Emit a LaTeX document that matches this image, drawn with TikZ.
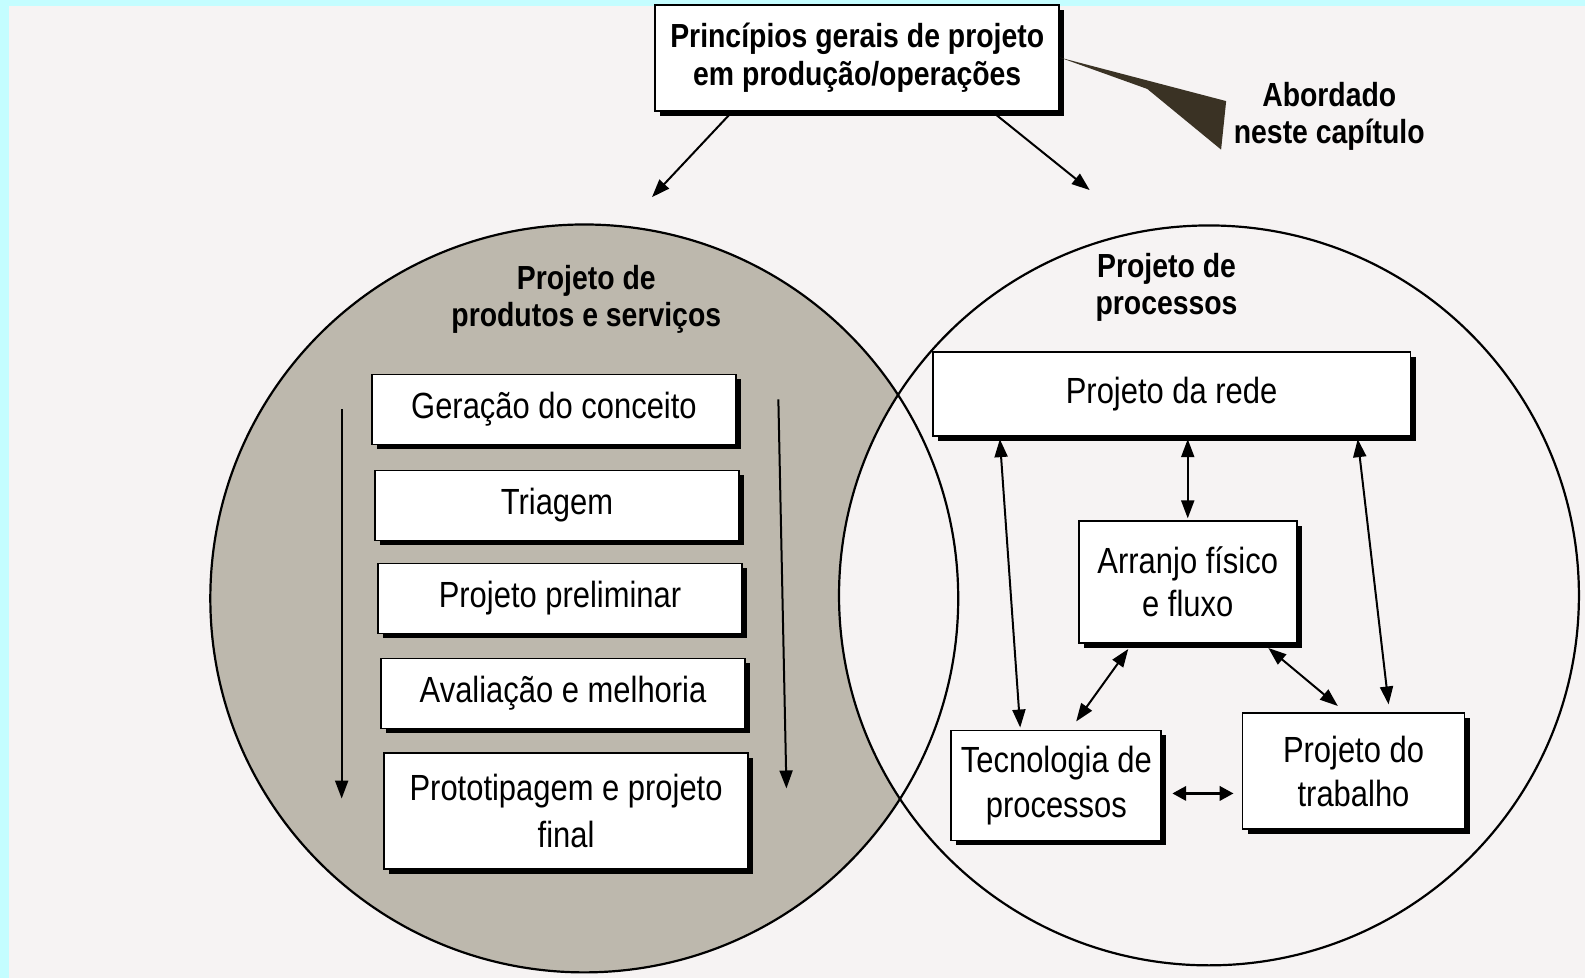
\documentclass[tikz,border=0pt]{standalone}
\usepackage{fontspec}
\setmainfont{Liberation Sans}[FakeStretch=0.85]
\usetikzlibrary{arrows.meta,shadows,calc}
\definecolor{paper}{RGB}{246,243,243}
\definecolor{screen}{RGB}{196,253,255}
\definecolor{prodgray}{RGB}{189,184,173}
\definecolor{wedge}{RGB}{58,50,36}

\begin{document}
\begin{tikzpicture}[x=0.5055pt,y=-0.5055pt,
    stepbox/.style={draw,line width=0.9pt,fill=white,align=center,
      font=\fontsize{18.2}{23.7}\selectfont,inner sep=2pt,
      drop shadow={shadow xshift=2.5pt,shadow yshift=-2.5pt,fill=black,opacity=1}},
    headlbl/.style={align=center,font=\fontsize{16.7}{18.7}\selectfont\bfseries},
    oneway/.style={-{Triangle[length=9pt,width=6.5pt]},line width=1pt},
    twoway/.style={{Triangle[length=9pt,width=6.5pt]}-{Triangle[length=9pt,width=6.5pt]},
      line width=1pt,shorten <=1pt,shorten >=1pt}]
    % page
    \fill[screen] (0,0) rectangle (1568,967);
    \fill[paper] (9,6) rectangle (1568,967);
    \useasboundingbox (0,0) rectangle (1568,967);
    % the two circles
    \fill[prodgray] (578,592) circle [radius=187pt];
    \fill[paper] (1196,589) circle [radius=185pt];
    \draw[line width=1.1pt] (578,592) circle [radius=187pt];
    \draw[line width=1.1pt] (1196,589) circle [radius=185pt];

    \node[stepbox,headlbl,minimum width=202pt,minimum height=53pt] (title) at (848,57)
        {Princípios gerais de projeto\\em produção/operações};
    \node[headlbl,font=\fontsize{16.7}{18.2}\selectfont\bfseries] (abord) at (1315,115)
        {Abordado\\neste capítulo};
    \fill[wedge] (title.east) -- (1213,100) -- (1208,148) -- (1135,88) -- cycle;

    \node[headlbl] (prodlbl) at (580,296) {Projeto de\\produtos e serviços};
    \node[headlbl] (proclbl) at (1154,284) {Projeto de\\processos};
    \coordinate (prodtop) at (645,195);
    \coordinate (proctop) at (1078,188);
    \draw[oneway] ([xshift=39pt]title.south west) -- (prodtop);
    \draw[oneway] ([xshift=-34pt]title.south east) -- (proctop);

    % stages of the product design
    \foreach \i/\x/\y/\h/\txt in {1/548/405/35/{Geração do conceito},2/551/500/35/Triagem,
        3/554/592/35/{Projeto preliminar},4/557/686/35/{Avaliação e melhoria},
        5/560/802/58/{Prototipagem e projeto\\final}}
        \node[stepbox,minimum width=182pt,minimum height=\h pt] (s\i) at (\x,\y) {\txt};
    \coordinate (la1) at (338,405);
    \coordinate (la2) at (338,790);
    \coordinate (ra1) at (770,395);
    \coordinate (ra2) at (778,780);
    \draw[oneway] (la1) -- (la2);
    \draw[oneway] (ra1) -- (ra2);

    % process design
    \node[stepbox,minimum width=239pt,minimum height=42pt] (rede) at (1159,390) {Projeto da rede};
    \node[stepbox,minimum width=109pt,minimum height=61pt,font=\fontsize{18.2}{21.5}\selectfont]
        (arr) at (1175,576) {Arranjo físico\\e fluxo};
    \node[stepbox,minimum width=105pt,minimum height=55pt,font=\fontsize{18.2}{22.5}\selectfont]
        (tec) at (1045,777) {Tecnologia de\\processos};
    \node[stepbox,minimum width=111pt,minimum height=58pt,font=\fontsize{18.2}{22}\selectfont]
        (trab) at (1339,763) {Projeto do\\trabalho};
    \draw[twoway] (rede.south -| arr.north) -- (arr.north);
    \draw[twoway] ([xshift=34pt]rede.south west) -- ([xshift=-18pt]tec.north);
    \draw[twoway,shorten >=4pt] ([xshift=-27pt]rede.south east) -- ([xshift=18pt]trab.north);
    \draw[twoway,shorten <=3pt,shorten >=5pt] ([xshift=-28pt]arr.south) -- ([xshift=7pt]tec.north);
    \draw[twoway,shorten <=3pt,shorten >=5pt] ([xshift=38pt]arr.south) -- ([xshift=-4pt]trab.north);
    \draw[{Triangle[length=7pt,width=7pt]}-{Triangle[length=7pt,width=7pt]},line width=1.8pt,
        shorten <=5pt,shorten >=4pt] ([yshift=-4pt]tec.east) -- ([yshift=-4pt]tec.east -| trab.west);
\end{tikzpicture}
\end{document}
